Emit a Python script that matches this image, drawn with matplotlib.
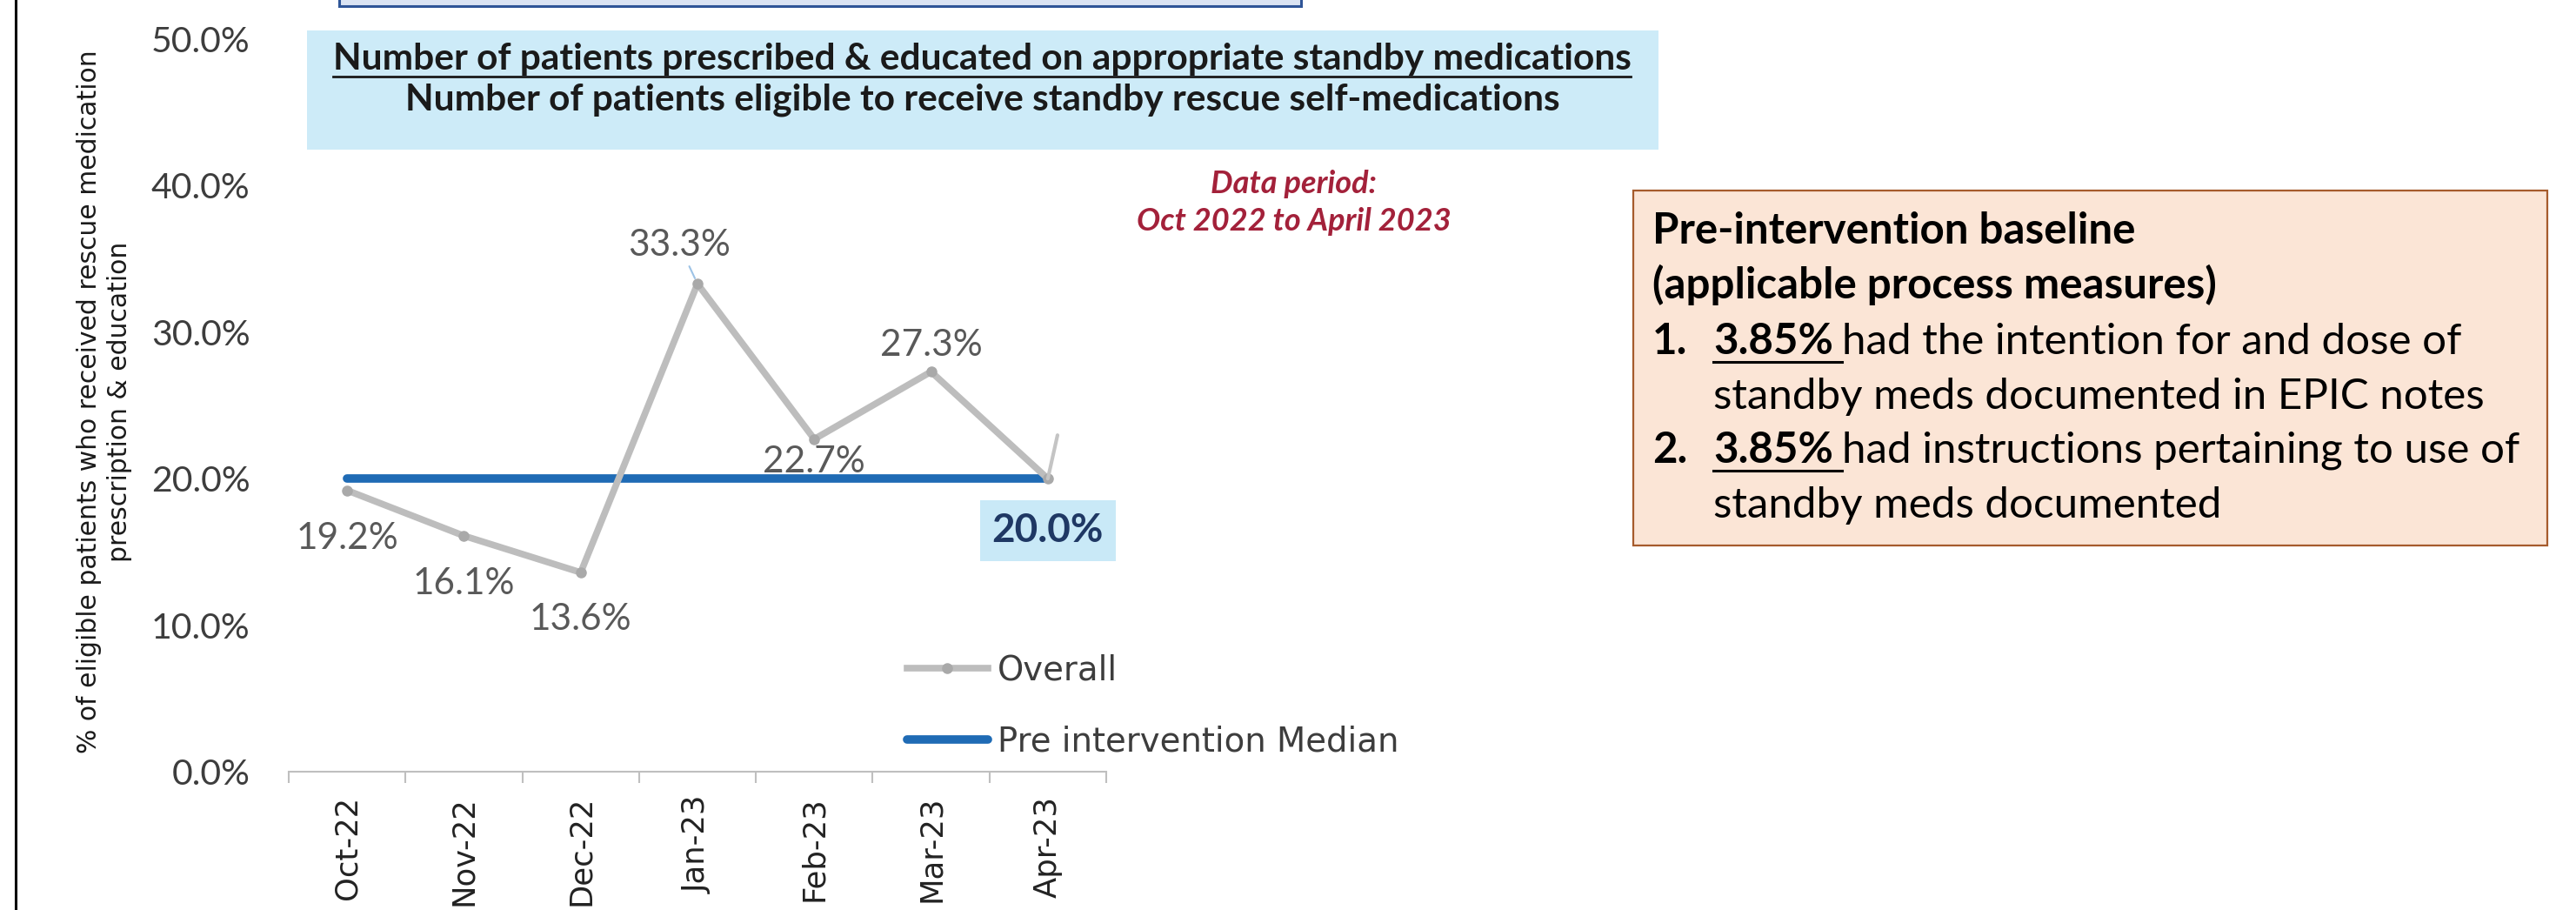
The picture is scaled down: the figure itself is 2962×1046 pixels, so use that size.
import matplotlib
matplotlib.use("Agg")
import matplotlib.pyplot as plt
from matplotlib.patches import Rectangle
from matplotlib.lines import Line2D

# --- data ---
months = ["Oct-22", "Nov-22", "Dec-22", "Jan-23", "Feb-23", "Mar-23", "Apr-23"]
overall = [19.2, 16.1, 13.6, 33.3, 22.7, 27.3, 20.0]
pre_median = [20.0, 20.0, 20.0, 20.0, 20.0, 20.0, 20.0]
median_label = "20.0%"

title_top = "Number of patients prescribed & educated on appropriate standby medications"
title_bottom = "Number of patients eligible to receive standby rescue self-medications"
period_lines = ["Data period:", "Oct 2022 to April 2023"]
ylabel = "% of eligible patients who received rescue medication\nprescription & education"

box_head = ["Pre-intervention baseline", "(applicable process measures)"]
box_items = [
    ("1.", "3.85%", "had the intention for and dose of", "standby meds documented in EPIC notes"),
    ("2.", "3.85%", "had instructions pertaining to use of", "standby meds documented"),
]

# label offsets (points) for the Overall data labels
label_offsets = [(0, -40), (0, -40), (0, -39), (-15, 32), (0, -19), (0, 22), None]

W, H = 2962, 1046
plt.rcParams["font.family"] = ["Lato", "DejaVu Sans"]


def fx(p):
    return p / W


def fy(p):
    return 1 - p / H


fig = plt.figure(figsize=(W / 100, H / 100), dpi=100)
ax = fig.add_axes([fx(332), fy(887), fx(1272) - fx(332), fy(45) - fy(887)])

xs = list(range(len(months)))
h_med, = ax.plot(xs, pre_median, color="#1f6bb5", lw=7, solid_capstyle="round",
                 label="Pre intervention Median", zorder=2)
h_all, = ax.plot(xs, overall, color="#bdbdbd", lw=5.5, marker="o", ms=8,
                 mfc="#a9a9a9", mec="#a9a9a9", solid_joinstyle="round",
                 label="Overall", zorder=3)

ax.set_xlim(-0.5, len(months) - 0.5)
ax.set_ylim(0, 50)
ax.set_yticks(range(0, 51, 10))
ax.set_yticklabels([f"{v:.1f}%" for v in range(0, 51, 10)])
ax.tick_params(axis="y", length=0, pad=32, labelsize=29.5, labelcolor="#3d3d3d")

ax.set_xticks([i - 0.5 for i in range(len(months) + 1)])
ax.set_xticklabels([])
ax.set_xticks(xs, minor=True)
ax.set_xticklabels(months, minor=True, rotation=90)
ax.tick_params(axis="x", which="major", length=9, width=1.5, color="#bfbfbf")
ax.tick_params(axis="x", which="minor", length=0, pad=20, labelsize=25.5,
               labelcolor="#222222")
for lbl in ax.get_xticklabels(minor=True):
    lbl.set_fontfamily("DejaVu Sans")

for s in ["left", "top", "right"]:
    ax.spines[s].set_visible(False)
ax.spines["bottom"].set_color("#bfbfbf")
ax.spines["bottom"].set_linewidth(1.5)

# data labels
for i, (v, off) in enumerate(zip(overall, label_offsets)):
    if off is None:
        continue
    kw = {}
    if v == max(overall):
        kw["arrowprops"] = dict(arrowstyle="-", color="#9dc3e6", lw=1.5,
                                shrinkA=2, shrinkB=5)
    ax.annotate(f"{v:.1f}%", (i, v), xytext=off, textcoords="offset points",
                ha="center", va="center", fontsize=30.5, color="#595959", **kw)

# small leader stub at the last point
ax.annotate("", xy=(xs[-1], overall[-1]), xytext=(8, 36), textcoords="offset points",
            arrowprops=dict(arrowstyle="-", color="#c4c4c4", lw=3, shrinkA=0, shrinkB=0))

ax.annotate(median_label, (xs[-1], pre_median[-1]), xytext=(0, -43),
            textcoords="offset points", ha="center", va="center", fontsize=33,
            fontweight="bold", color="#1f3864",
            bbox=dict(boxstyle="square,pad=0.3", fc="#c9e9f7", ec="none"))

ax.legend(handles=[h_all, h_med], loc="upper left", bbox_to_anchor=(fx(1043), fy(752)),
          bbox_transform=fig.transFigure, frameon=False,
          prop={"family": "DejaVu Sans", "size": 27.8}, labelcolor="#3d3d3d",
          handlelength=2.4, handletextpad=0.3, labelspacing=1.13,
          borderaxespad=0, borderpad=0)

# --- decorations around the chart ---
fig.add_artist(Line2D([fx(18), fx(18)], [0, 1], color="black", lw=2.2))
fig.add_artist(Rectangle((fx(390), fy(7)), fx(1496) - fx(390), fy(-30) - fy(7),
                         transform=fig.transFigure, fc="#dae3f3", ec="#2f5597", lw=2.2))
fig.add_artist(Rectangle((fx(353), fy(172)), fx(1907) - fx(353), fy(35) - fy(172),
                         transform=fig.transFigure, fc="#cdebf8", ec="none"))

t1 = fig.text(fx(1129), fy(80), title_top, ha="center", va="baseline",
              fontsize=30.5, fontweight="bold", color="#1a1a1a")
fig.text(fx(1130), fy(127), title_bottom, ha="center", va="baseline",
         fontsize=30.5, fontweight="bold", color="#1a1a1a")

fig.text(fx(1488), fy(222), period_lines[0], ha="center", va="baseline",
         fontsize=26, style="italic", fontweight="bold", color="#a3213a")
fig.text(fx(1488), fy(265), period_lines[1], ha="center", va="baseline",
         fontsize=26, style="italic", fontweight="bold", color="#a3213a")

fig.text(fx(120), fy(462), ylabel, rotation=90, ha="center", va="center",
         multialignment="center", fontsize=21.5, family="DejaVu Sans",
         linespacing=1.3, color="#1a1a1a")

fig.add_artist(Rectangle((fx(1878), fy(627)), fx(2929) - fx(1878), fy(219) - fy(627),
                         transform=fig.transFigure, fc="#fbe5d6", ec="#a65b2c", lw=1.6))

box_fs = 35.5
fig.text(fx(1900), fy(280), box_head[0], va="baseline", fontsize=box_fs, fontweight="bold")
fig.text(fx(1900), fy(343), box_head[1], va="baseline", fontsize=box_fs, fontweight="bold")

fig.canvas.draw()
r = fig.canvas.get_renderer()

# underline the title numerator
bb = t1.get_window_extent(r)
fig.add_artist(Line2D([bb.x0 / W, bb.x1 / W], [fy(88), fy(88)], color="#1a1a1a", lw=2))

row_y = [407, 532]
for (num, pct, rest, cont), y in zip(box_items, row_y):
    fig.text(fx(1900), fy(y), num, va="baseline", fontsize=box_fs, fontweight="bold")
    tp = fig.text(fx(1970), fy(y), pct, va="baseline", fontsize=box_fs, fontweight="bold")
    fig.canvas.draw()
    b = tp.get_window_extent(r)
    sp = box_fs * 100 / 72 * 0.2
    fig.add_artist(Line2D([fx(1970), (b.x1 + sp) / W], [fy(y + 9), fy(y + 9)],
                          color="black", lw=2.2))
    fig.text((b.x1 + sp) / W, fy(y), rest, va="baseline", fontsize=box_fs)
    fig.text(fx(1970), fy(y + 63), cont, va="baseline", fontsize=box_fs)

fig.savefig("out.png", dpi=100)
